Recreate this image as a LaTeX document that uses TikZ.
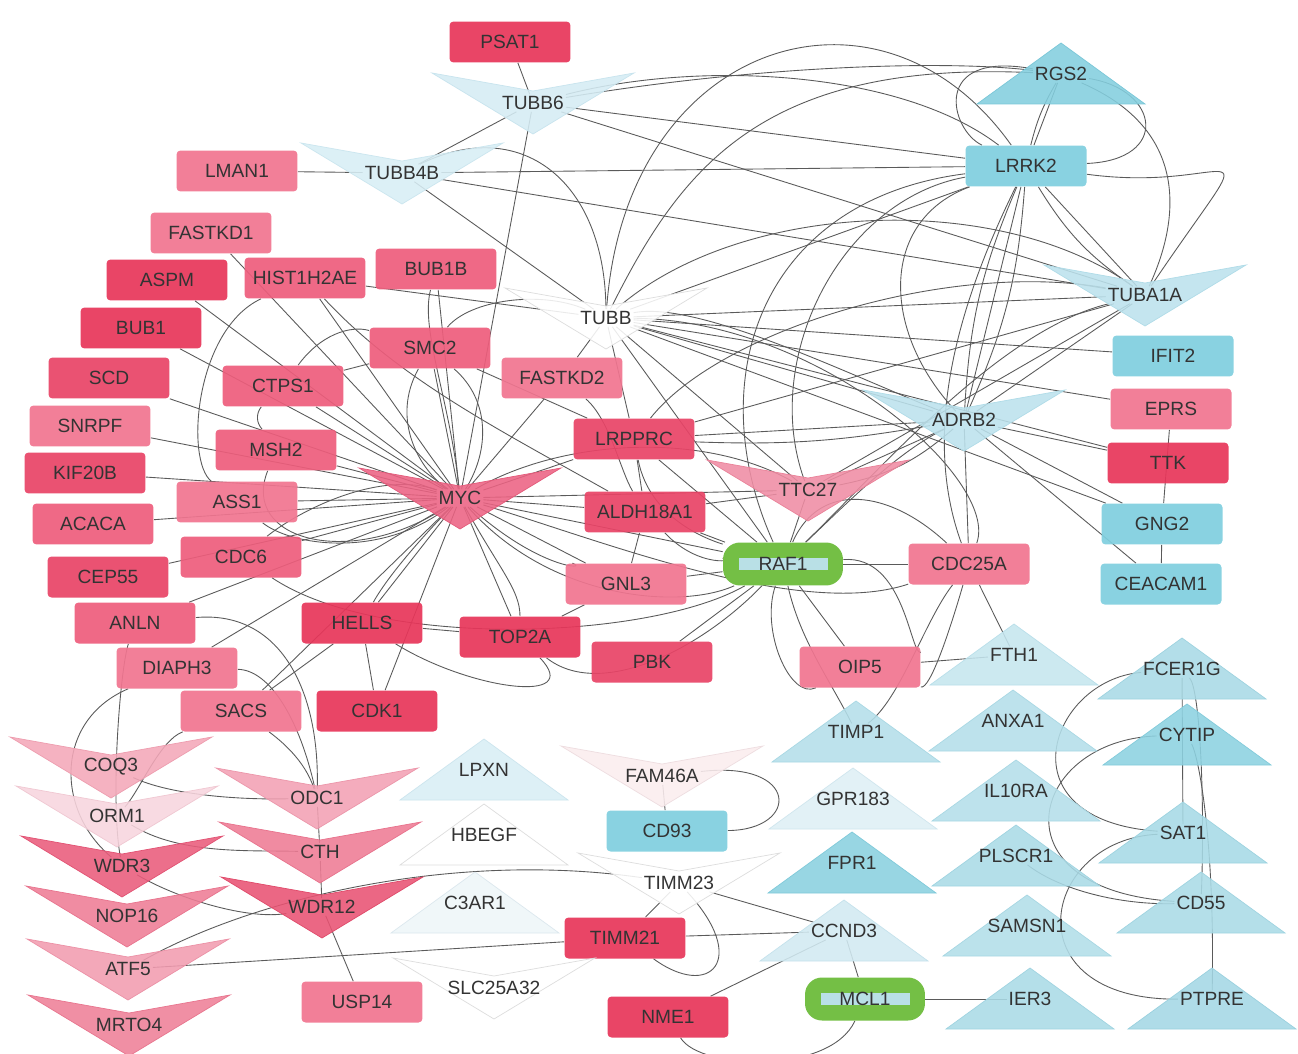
\documentclass[tikz,border=0pt]{standalone}
\usepackage{fontspec}
\newfontfamily\lab{Liberation Sans}
\pgfdeclarelayer{back}
\pgfdeclarelayer{bg}
\pgfsetlayers{back,bg,main}
\definecolor{cA}{HTML}{E8365A}
\definecolor{cB}{HTML}{E94467}
\definecolor{cC}{HTML}{EE5D7C}
\definecolor{cD}{HTML}{F17590}
\definecolor{bl}{HTML}{7FCFDF}
\definecolor{grn}{HTML}{74BF45}
\definecolor{ib}{HTML}{B9E0E6}
\definecolor{txt}{HTML}{333333}
\definecolor{edgec}{HTML}{5A5A5A}
\tikzset{
 lbl/.style={font=\lab\fontsize{10.9}{12}\selectfont, text=txt, inner sep=1pt, text opacity=1},
 box/.style={lbl, rectangle, rounded corners=0.08cm, minimum width=2.42cm, minimum height=0.82cm, inner sep=0pt, fill opacity=0.92},
 pill/.style={lbl, rectangle, rounded corners=0.34cm, minimum width=2.4cm, minimum height=0.86cm, inner sep=0pt, fill=grn,
   path picture={\fill[ib,sharp corners] ([xshift=-0.89cm,yshift=-0.12cm]path picture bounding box.center) rectangle ([xshift=0.89cm,yshift=0.12cm]path picture bounding box.center);}},
 e/.style={draw=edgec, line width=0.5pt},
}
\newcommand\Vn[5]{\definecolor{tmpf}{HTML}{#4}\definecolor{tmpd}{HTML}{#5}\filldraw[fill=tmpf,draw=tmpd,line width=0.4pt,fill opacity=0.88] ({#2-101},{#3-30}) -- (#2,{#3-12}) -- ({#2+101},{#3-30}) -- (#2,{#3+31}) -- cycle; \node[lbl] (#1) at (#2,#3) {#1};}
\newcommand\Tn[5]{\definecolor{tmpf}{HTML}{#4}\definecolor{tmpd}{HTML}{#5}\filldraw[fill=tmpf,draw=tmpd,line width=0.4pt,fill opacity=0.88] (#2,{#3-31}) -- ({#2+84},{#3+30}) -- ({#2-84},{#3+30}) -- cycle; \node[lbl] (#1) at (#2,#3) {#1};}
\begin{document}
\begin{tikzpicture}[x=0.02cm,y=-0.02cm]
\begin{pgfonlayer}{back}
\fill[white] (0,0) rectangle (1298,1054);
\end{pgfonlayer}
\useasboundingbox (0,0) rectangle (1298,1054);
% ---------- boxes ----------
\node[box,fill=cA] (PSAT1) at (510,42) {PSAT1};
\node[box,fill=cD] (LMAN1) at (237,171) {LMAN1};
\node[box,fill=cD] (FASTKD1) at (211,233) {FASTKD1};
\node[box,fill=cA] (ASPM) at (167,280) {ASPM};
\node[box,fill=cC] (HIST1H2AE) at (305,278) {HIST1H2AE};
\node[box,fill=cC] (BUB1B) at (436,269) {BUB1B};
\node[box,fill=cA] (BUB1) at (141,328) {BUB1};
\node[box,fill=cC] (SMC2) at (430,348) {SMC2};
\node[box,fill=cC] (CTPS1) at (283,386) {CTPS1};
\node[box,fill=cD] (FASTKD2) at (562,378) {FASTKD2};
\node[box,fill=cB] (SCD) at (109,378) {SCD};
\node[box,fill=cD] (SNRPF) at (90,426) {SNRPF};
\node[box,fill=cC] (MSH2) at (276,450) {MSH2};
\node[box,fill=cB] (LRPPRC) at (634,439) {LRPPRC};
\node[box,fill=cB] (KIF20B) at (85,473) {KIF20B};
\node[box,fill=cD] (ASS1) at (237,502) {ASS1};
\node[box,fill=cB] (ALDH18A1) at (645,512) {ALDH18A1};
\node[box,fill=cC] (ACACA) at (93,524) {ACACA};
\node[box,fill=cC] (CDC6) at (241,557) {CDC6};
\node[box,fill=cB] (CEP55) at (108,577) {CEP55};
\node[box,fill=cD] (GNL3) at (626,584) {GNL3};
\node[box,fill=cC] (ANLN) at (135,623) {ANLN};
\node[box,fill=cA] (HELLS) at (362,623) {HELLS};
\node[box,fill=cA] (TOP2A) at (520,637) {TOP2A};
\node[box,fill=cB] (PBK) at (652,662) {PBK};
\node[box,fill=cD] (DIAPH3) at (177,668) {DIAPH3};
\node[box,fill=cD] (SACS) at (241,711) {SACS};
\node[box,fill=cA] (CDK1) at (377,711) {CDK1};
\node[box,fill=cD] (CDC25A) at (969,564) {CDC25A};
\node[box,fill=cD] (OIP5) at (860,667) {OIP5};
\node[box,fill=cD] (USP14) at (362,1002) {USP14};
\node[box,fill=cA] (TIMM21) at (625,938) {TIMM21};
\node[box,fill=cA] (NME1) at (668,1017) {NME1};
\node[box,fill=cD] (EPRS) at (1171,409) {EPRS};
\node[box,fill=cA] (TTK) at (1168,463) {TTK};
\node[box,fill=bl] (LRRK2) at (1026,166) {LRRK2};
\node[box,fill=bl] (IFIT2) at (1173,356) {IFIT2};
\node[box,fill=bl] (GNG2) at (1162,524) {GNG2};
\node[box,fill=bl] (CEACAM1) at (1161,584) {CEACAM1};
\node[box,fill=bl] (CD93) at (667,831) {CD93};
\node[pill] (RAF1) at (783,564) {RAF1};
\node[pill] (MCL1) at (865,999) {MCL1};
% ---------- V shapes ----------
\Vn{TUBB6}{533}{103}{D5ECF4}{C8E4EE}
\Vn{TUBB4B}{402}{173}{D8EEF5}{CBE6EF}
\Vn{TUBB}{606}{318}{FFFFFF}{DDDDDD}
\Vn{TUBA1A}{1145}{295}{BCE2ED}{B0DCE8}
\Vn{ADRB2}{964}{420}{BCE2ED}{B0DCE8}
\Vn{MYC}{460}{498}{EC6383}{E45A7A}
\Vn{TTC27}{808}{490}{F08DA4}{EA8299}
\Vn{COQ3}{111}{767}{F4A8B9}{EE9DAF}
\Vn{ORM1}{117}{816}{F8D5DE}{F0C8D2}
\Vn{WDR3}{122}{866}{EA5C7C}{E25273}
\Vn{NOP16}{127}{916}{EE7D96}{E8738D}
\Vn{ATF5}{128}{969}{F29CB0}{EC91A6}
\Vn{MRTO4}{129}{1025}{EF8098}{E8758E}
\Vn{ODC1}{317}{798}{F3A1B4}{EC96AA}
\Vn{CTH}{320}{852}{EF7C95}{E8728C}
\Vn{WDR12}{322}{907}{E95373}{E04A6A}
\Vn{FAM46A}{662}{776}{FBEDEF}{EEDDE0}
\Vn{TIMM23}{679}{883}{FFFFFF}{DDDDDD}
\Vn{SLC25A32}{494}{988}{FFFFFF}{DDDDDD}
% ---------- triangles ----------
\Tn{RGS2}{1061}{74}{84CFDF}{7AC7D8}
\Tn{FTH1}{1014}{655}{C5E6EF}{B9DFEA}
\Tn{FCER1G}{1182}{669}{A9DAE6}{9ED3E0}
\Tn{ANXA1}{1013}{721}{B4DFEA}{A9D8E4}
\Tn{TIMP1}{856}{732}{B4DFEA}{A9D8E4}
\Tn{CYTIP}{1187}{735}{8DD2E1}{83CBDB}
\Tn{GPR183}{853}{799}{DFF0F5}{D0E6EE}
\Tn{IL10RA}{1016}{791}{B4DFEA}{A9D8E4}
\Tn{SAT1}{1183}{833}{A7DAE6}{9DD3E0}
\Tn{FPR1}{852}{863}{8AD1E0}{80CADA}
\Tn{PLSCR1}{1016}{856}{AADBE7}{A0D4E1}
\Tn{CD55}{1201}{903}{AADBE7}{A0D4E1}
\Tn{CCND3}{844}{931}{D2EAF2}{C5E2EC}
\Tn{SAMSN1}{1027}{926}{B2DEE9}{A7D7E3}
\Tn{IER3}{1030}{999}{AADBE7}{A0D4E1}
\Tn{PTPRE}{1212}{999}{A4D8E5}{9AD1DF}
\Tn{LPXN}{484}{770}{D9EEF5}{CCE5EE}
\Tn{HBEGF}{484}{835}{FFFFFF}{DDDDDD}
\Tn{C3AR1}{475}{903}{EFF6F9}{DCE8EE}
% ---------- edges ----------
\begin{pgfonlayer}{bg}
\draw[e] (PSAT1) -- (TUBB6);
\draw[e] (TUBB6) -- (TUBB4B);
\draw[e] (LMAN1) -- (TUBB4B);
\draw[e] (TUBB4B) -- (TUBB);
\draw[e] (TUBB4B) -- (LRRK2);
\draw[e] (TUBB4B) -- (TUBA1A);
\draw[e] (TUBB6) -- (LRRK2);
\draw[e] (TUBB6) -- (TUBA1A);
\draw[e] (TUBB6) -- (MYC);
\draw[e] (TUBB4B) .. controls (520,115) and (605,180) .. (TUBB);
\draw[e] (TUBB6) .. controls (700,60) and (900,70) .. (LRRK2);
\draw[e] (TUBB6) .. controls (760,65) and (950,60) .. (RGS2);
\draw[e] (TUBB) .. controls (625,40) and (880,-40) .. (LRRK2);
\draw[e] (TUBB) .. controls (680,170) and (760,60) .. (RGS2);
\draw[e] (TUBB) .. controls (740,200) and (1000,190) .. (TUBA1A);
\draw[e] (TUBB) -- (TUBA1A);
\draw[e] (TUBB) -- (LRRK2);
\draw[e] (TUBB) -- (IFIT2);
\draw[e] (TUBB) -- (EPRS);
\draw[e] (TUBB) -- (ADRB2);
\draw[e] (TUBB) -- (TTK);
\draw[e] (TUBB) -- (GNG2);
\draw[e] (TUBB) -- (RAF1);
\draw[e] (TUBB) -- (TTC27);
\draw[e] (TUBB) -- (FASTKD2);
\draw[e] (TUBB) -- (LRPPRC);
\draw[e] (HIST1H2AE) -- (TUBB);
\draw[e] (SMC2) .. controls (470,300) and (540,290) .. (TUBB);
\draw[e] (TUBB) .. controls (700,300) and (860,380) .. (ADRB2);
% LRRK2 cluster
\draw[e] (LRRK2) -- (RGS2);
\draw[e] (LRRK2) to[bend left=8] (RGS2);
\draw[e] (RGS2) .. controls (930,50) and (950,130) .. (LRRK2);
\draw[e] (LRRK2) .. controls (1170,160) and (1160,90) .. (RGS2);
\draw[e] (LRRK2) .. controls (1240,195) and (1270,110) .. (TUBA1A);
\draw[e] (RGS2) .. controls (1190,130) and (1180,220) .. (TUBA1A);
\draw[e] (LRRK2) -- (TUBA1A);
\draw[e] (LRRK2) to[bend right=12] (TUBA1A);
\draw[e] (LRRK2) -- (ADRB2);
\draw[e] (LRRK2) to[bend left=10] (ADRB2);
\draw[e] (LRRK2) to[bend right=10] (ADRB2);
\draw[e] (LRRK2) .. controls (960,300) and (920,430) .. (CDC25A);
\draw[e] (RAF1) .. controls (700,380) and (760,200) .. (LRRK2);
\draw[e] (TTC27) .. controls (760,360) and (840,200) .. (LRRK2);
\draw[e] (ADRB2) .. controls (880,330) and (880,220) .. (LRRK2);
% ADRB2 cluster
\draw[e] (ADRB2) -- (TTK);
\draw[e] (ADRB2) -- (GNG2);
\draw[e] (ADRB2) -- (CEACAM1);
\draw[e] (ADRB2) -- (TUBA1A);
\draw[e] (ADRB2) -- (LRPPRC);
\draw[e] (ADRB2) to[bend left=6] (LRPPRC);
\draw[e] (TTC27) -- (TUBA1A);
\draw[e] (TTC27) -- (ADRB2);
\draw[e] (TTC27) to[bend right=15] (ADRB2);
\draw[e] (LRPPRC) -- (TUBA1A);
\draw[e] (LRPPRC) .. controls (720,330) and (950,260) .. (TUBA1A);
\draw[e] (RAF1) .. controls (880,470) and (1000,330) .. (TUBA1A);
\draw[e] (RAF1) .. controls (850,500) and (900,450) .. (ADRB2);
\draw[e] (EPRS) -- (GNG2);
\draw[e] (GNG2) -- (CEACAM1);
\draw[e] (CDC25A) .. controls (1000,480) and (820,320) .. (TUBB);
\draw[e] (CDC25A) -- (ADRB2);
% MYC star
\foreach \n in {BUB1,SCD,SNRPF,KIF20B,ACACA,ASS1,CEP55,ANLN,MSH2,CTPS1,HIST1H2AE,ASPM,FASTKD1,BUB1B,SMC2,FASTKD2,LRPPRC,ALDH18A1,GNL3,TOP2A,HELLS,CDK1,TTC27,RAF1,DIAPH3,SACS,CDC6}
  \draw[e] (MYC) -- (\n);
\draw[e] (SMC2) .. controls (390,420) and (420,470) .. (MYC);
\draw[e] (SMC2) .. controls (490,400) and (490,450) .. (MYC);
\draw[e] (BUB1B) .. controls (420,330) and (450,400) .. (MYC);
\draw[e] (CTPS1) .. controls (320,335) and (350,325) .. (SMC2);
\draw[e] (CTPS1) -- (SMC2);
\draw[e] (MSH2) to[bend left=40] (CTPS1);
\draw[e] (HIST1H2AE) .. controls (195,330) and (185,460) .. (ASS1);
\draw[e] (HIST1H2AE) .. controls (400,380) and (500,430) .. (ALDH18A1);
\draw[e] (FASTKD2) .. controls (610,420) and (620,470) .. (ALDH18A1);
\draw[e] (ASS1) .. controls (290,545) and (380,560) .. (MYC);
\draw[e] (MSH2) .. controls (240,540) and (350,570) .. (MYC);
\draw[e] (CDC6) .. controls (300,510) and (380,470) .. (MYC);
\draw[e] (MYC) .. controls (550,600) and (680,610) .. (RAF1);
\draw[e] (MYC) .. controls (560,440) and (700,430) .. (TTC27);
\draw[e] (MYC) .. controls (540,570) and (590,570) .. (GNL3);
\draw[e] (MYC) .. controls (500,570) and (520,590) .. (TOP2A);
\draw[e] (MYC) .. controls (400,560) and (380,590) .. (HELLS);
\draw[e] (CDC6) .. controls (380,650) and (650,640) .. (RAF1);
\draw[e] (MYC) .. controls (600,540) and (800,620) .. (CDC25A);
\draw[e] (SMC2) -- (LRPPRC);
% RAF1
\draw[e] (RAF1) -- (CDC25A);
\draw[e] (RAF1) -- (OIP5);
\draw[e] (RAF1) -- (PBK);
\draw[e] (RAF1) -- (GNL3);
\draw[e] (RAF1) -- (ALDH18A1);
\draw[e] (RAF1) -- (LRPPRC);
\draw[e] (RAF1) -- (TTC27);
\draw[e] (ALDH18A1) .. controls (700,570) and (740,560) .. (RAF1);
\draw[e] (LRPPRC) .. controls (650,520) and (710,540) .. (RAF1);
\draw[e] (RAF1) .. controls (800,640) and (830,680) .. (TIMP1);
\draw[e] (RAF1) .. controls (760,630) and (790,700) .. (OIP5);
\draw[e] (RAF1) .. controls (905,555) and (910,655) .. (OIP5);
\draw[e] (CDC25A) .. controls (925,620) and (900,700) .. (TIMP1);
\draw[e] (CDC25A) .. controls (950,630) and (930,690) .. (OIP5);
\draw[e] (CDC25A) .. controls (890,490) and (820,480) .. (RAF1);
\draw[e] (CDC25A) -- (FTH1);
\draw[e] (OIP5) -- (FTH1);
\draw[e] (TOP2A) .. controls (600,700) and (700,650) .. (RAF1);
% pink cluster
\draw[e] (HELLS) -- (TOP2A);
\draw[e] (HELLS) -- (CDK1);
\draw[e] (HELLS) -- (SACS);
\draw[e] (HELLS) .. controls (470,690) and (585,705) .. (TOP2A);
\draw[e] (TOP2A) -- (GNL3);
\draw[e] (ALDH18A1) -- (GNL3);
\draw[e] (LRPPRC) -- (ALDH18A1);
\draw[e] (ALDH18A1) -- (TTC27);
% bottom-left
\draw[e] (ODC1) -- (CTH);
\draw[e] (CTH) -- (WDR12);
\draw[e] (WDR12) -- (USP14);
\draw[e] (ANLN) .. controls (280,610) and (320,690) .. (ODC1);
\draw[e] (DIAPH3) .. controls (270,670) and (300,720) .. (ODC1);
\draw[e] (SACS) .. controls (280,740) and (305,760) .. (ODC1);
\draw[e] (COQ3) .. controls (170,795) and (240,800) .. (ODC1);
\draw[e] (ORM1) .. controls (180,855) and (250,850) .. (CTH);
\draw[e] (DIAPH3) .. controls (55,720) and (55,810) .. (WDR3);
\draw[e] (ANLN) .. controls (120,670) and (110,800) .. (WDR3);
\draw[e] (SACS) .. controls (160,740) and (140,790) .. (ORM1);
\draw[e] (WDR3) .. controls (180,900) and (250,920) .. (WDR12);
\draw[e] (ATF5) .. controls (250,900) and (450,850) .. (TIMM23);
\draw[e] (ATF5) -- (TIMM21);
% bottom-middle
\draw[e] (FAM46A) -- (CD93);
\draw[e] (FAM46A) .. controls (800,760) and (800,830) .. (CD93);
\draw[e] (TIMM23) -- (TIMM21);
\draw[e] (TIMM23) -- (CCND3);
\draw[e] (TIMM21) -- (CCND3);
\draw[e] (TIMM23) .. controls (750,960) and (710,1000) .. (TIMM21);
\draw[e] (CCND3) -- (MCL1);
\draw[e] (CCND3) -- (NME1);
\draw[e] (NME1) .. controls (700,1070) and (830,1075) .. (MCL1);
\draw[e] (MCL1) -- (IER3);
% bottom-right
\draw[e] (FCER1G) -- (SAT1);
\draw[e] (FCER1G) .. controls (1050,680) and (1000,820) .. (SAT1);
\draw[e] (FCER1G) .. controls (1200,690) and (1205,800) .. (CD55);
\draw[e] (CYTIP) .. controls (1030,740) and (990,890) .. (CD55);
\draw[e] (CYTIP) .. controls (1200,760) and (1215,850) .. (PTPRE);
\draw[e] (SAT1) .. controls (1040,840) and (1010,1000) .. (PTPRE);
\draw[e] (PLSCR1) .. controls (1060,890) and (1120,905) .. (CD55);
\end{pgfonlayer}
\end{tikzpicture}
\end{document}
